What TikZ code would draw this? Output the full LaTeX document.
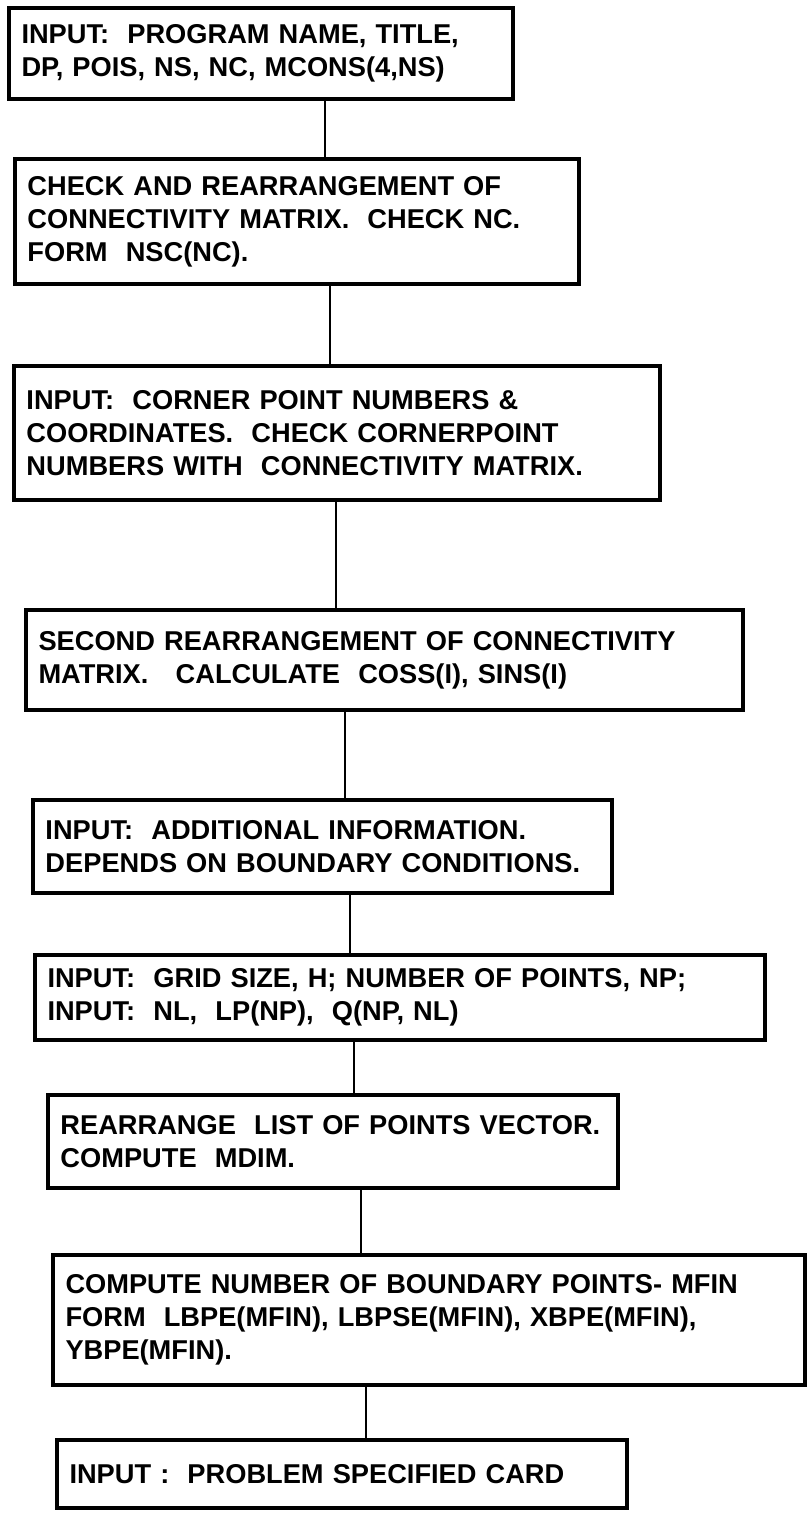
\documentclass[tikz,border=0pt]{standalone}
\usepackage{fontspec}
\setmainfont{Liberation Sans}
\usetikzlibrary{positioning}

\begin{document}
\begin{tikzpicture}[
    stage/.style={draw, line width=2pt, outer sep=0pt, align=left, inner xsep=0.25cm, inner ysep=0.1cm,
                  font=\fontsize{15.5}{18.8}\selectfont\bfseries},
    link/.style={line width=1.5pt}
]
    \useasboundingbox (0,0) rectangle (16.18,-30.32);

    \node[stage, anchor=north west, text width=9.58cm, minimum height=1.82cm] (b1) at (0.18,-0.16)
        {INPUT:\ \ PROGRAM NAME, TITLE,\\DP, POIS, NS, NC, MCONS(4,NS)};
    \node[stage, text width=10.78cm, minimum height=2.5cm, below right=1.2cm and 0.12cm of b1.south west] (b2)
        {CHECK AND REARRANGEMENT OF\\CONNECTIVITY MATRIX.\ \ CHECK NC.\\FORM\ \ NSC(NC).};
    \node[stage, text width=12.42cm, minimum height=2.68cm, below right=1.64cm and -0.02cm of b2.south west] (b3)
        {INPUT:\ \ CORNER POINT NUMBERS \&\\COORDINATES.\ \ CHECK CORNERPOINT\\NUMBERS WITH\ \ CONNECTIVITY MATRIX.};
    \node[stage, text width=13.84cm, minimum height=2.0cm, below right=2.2cm and 0.24cm of b3.south west] (b4)
        {SECOND REARRANGEMENT OF CONNECTIVITY\\MATRIX.\quad CALCULATE\ \ COSS(I), SINS(I)};
    \node[stage, text width=11.08cm, minimum height=1.86cm, below right=1.8cm and 0.14cm of b4.south west] (b5)
        {INPUT:\ \ ADDITIONAL INFORMATION.\\DEPENDS ON BOUNDARY CONDITIONS.};
    \node[stage, text width=14.1cm, minimum height=1.7cm, below right=1.24cm and 0.04cm of b5.south west] (b6)
        {INPUT:\ \ GRID SIZE, H; NUMBER OF POINTS, NP;\\INPUT:\ \ NL,\ \ LP(NP),\ \ Q(NP, NL)};
    \node[stage, text width=10.9cm, minimum height=1.86cm, below right=1.1cm and 0.26cm of b6.south west] (b7)
        {REARRANGE\ \ LIST OF POINTS VECTOR.\\COMPUTE\ \ MDIM.};
    \node[stage, text width=14.54cm, minimum height=2.6cm, below right=1.34cm and 0.1cm of b7.south west] (b8)
        {COMPUTE NUMBER OF BOUNDARY POINTS- MFIN\\FORM\ \ LBPE(MFIN), LBPSE(MFIN), XBPE(MFIN),\\YBPE(MFIN).};
    \node[stage, text width=10.9cm, minimum height=1.36cm, below right=1.1cm and 0.08cm of b8.south west] (b9)
        {INPUT :\ \ PROBLEM SPECIFIED CARD};

    % vertical spine between the stages
    \foreach \a/\b/\x in {b1/b2/6.5, b2/b3/6.6, b3/b4/6.72, b4/b5/6.9,
                          b5/b6/7.0, b6/b7/7.08, b7/b8/7.22, b8/b9/7.32}
        \draw[link] (\a.south -| \x,0) -- (\b.north -| \x,0);
\end{tikzpicture}
\end{document}
